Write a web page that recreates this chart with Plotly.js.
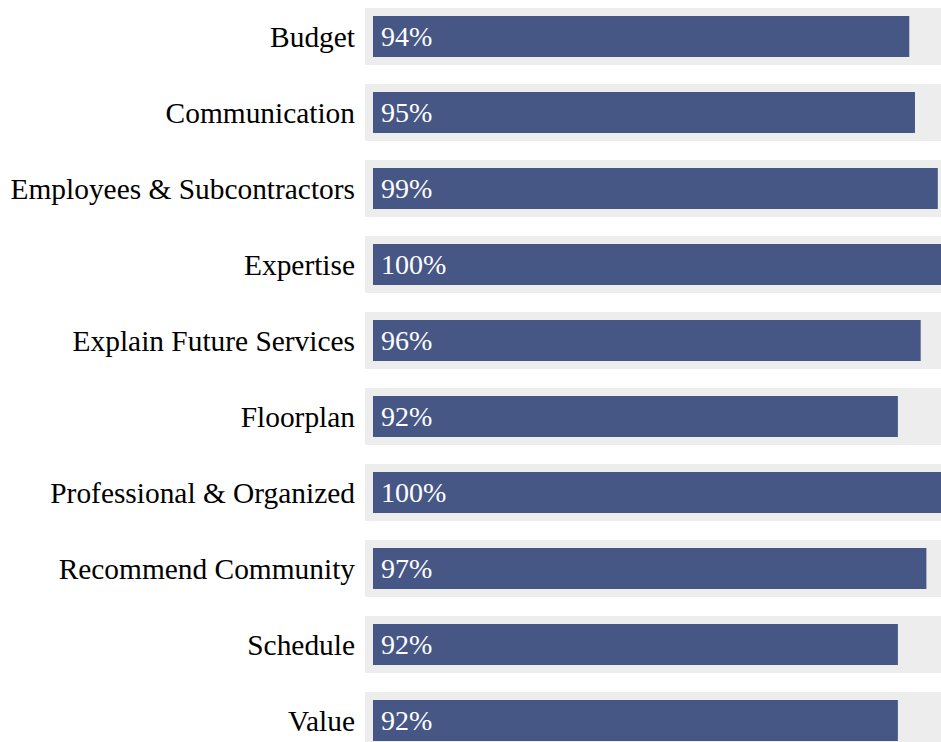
<!DOCTYPE html>
<html>
<head>
<meta charset="utf-8">
<script src="https://cdn.plot.ly/plotly-3.0.1.min.js"></script>
<style>
html, body { margin: 0; padding: 0; overflow: hidden; background: #ffffff; }
#chart { width: 941px; height: 742px; }
</style>
</head>
<body>
<div id="chart"></div>
<script>
const categories = [
  "Budget",
  "Communication",
  "Employees & Subcontractors",
  "Expertise",
  "Explain Future Services",
  "Floorplan",
  "Professional & Organized",
  "Recommend Community",
  "Schedule",
  "Value"
];
const scores = [94, 95, 99, 100, 96, 92, 100, 97, 92, 92];
const backgroundValues = [102, 102, 102, 102, 102, 102, 102, 102, 102, 102];

const FONT = '"Liberation Serif", "Times New Roman", Times, serif';
const BLUE = '#465685';
const GREY = '#ededed';

const bgTrace = {
  type: 'bar',
  orientation: 'h',
  y: categories,
  x: backgroundValues,
  base: -1.4,
  width: 0.75,
  marker: { color: GREY, line: { width: 0 } },
  hoverinfo: 'skip',
  showlegend: false
};

const barTrace = {
  type: 'bar',
  orientation: 'h',
  y: categories,
  x: scores,
  base: 0,
  width: 0.54,
  marker: { color: BLUE, line: { width: 0 } },
  showlegend: false,
  hoverinfo: 'skip'
};

const annotations = categories.map((c, i) => ({
  x: 0,
  y: c,
  xref: 'x',
  yref: 'y',
  text: scores[i] + '%',
  showarrow: false,
  xanchor: 'left',
  yanchor: 'middle',
  xshift: 6,
  font: { family: FONT, size: 28, color: '#ffffff' }
}));

const layout = {
  width: 941,
  height: 742,
  margin: { l: 365, r: 0, t: 0, b: 0, pad: 0 },
  paper_bgcolor: '#ffffff',
  plot_bgcolor: '#ffffff',
  barmode: 'overlay',
  xaxis: {
    range: [-1.4, 99.56],
    showgrid: false,
    zeroline: false,
    showticklabels: false,
    showline: false,
    ticks: '',
    fixedrange: true
  },
  yaxis: {
    type: 'category',
    categoryorder: 'array',
    categoryarray: categories,
    range: [9.283, -0.48],
    showgrid: false,
    zeroline: false,
    showline: false,
    ticks: '',
    ticklabelstandoff: 9,
    automargin: false,
    tickfont: { family: FONT, size: 29.4, color: '#000000' },
    fixedrange: true
  },
  annotations: annotations,
  showlegend: false
};

Plotly.newPlot('chart', [bgTrace, barTrace], layout, { displayModeBar: false, staticPlot: true });
</script>
</body>
</html>
